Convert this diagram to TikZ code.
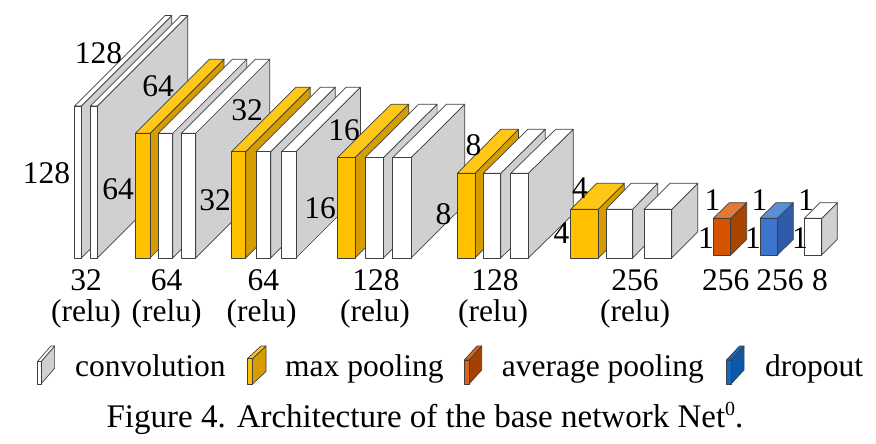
\documentclass[tikz,border=0pt]{standalone}
\usepackage{fontspec}
\setmainfont{Liberation Serif}
\definecolor{convside}{RGB}{208,208,208}
\definecolor{poolfront}{RGB}{255,192,0}
\definecolor{pooltop}{RGB}{255,199,22}
\definecolor{poolside}{RGB}{214,157,0}
\definecolor{avgfront}{RGB}{214,84,0}
\definecolor{avgtop}{RGB}{226,122,56}
\definecolor{avgside}{RGB}{168,69,0}
\definecolor{dropfront}{RGB}{61,117,204}
\definecolor{droptop}{RGB}{92,142,216}
\definecolor{dropside}{RGB}{46,92,168}
\definecolor{legavgfront}{RGB}{216,100,24}
\definecolor{legavgside}{RGB}{164,64,0}
\definecolor{legdropfront}{RGB}{22,104,190}
\definecolor{legdropside}{RGB}{12,88,168}
\definecolor{edgecol}{RGB}{64,64,64}
\newcommand{\lblfont}{\fontsize{31.5}{36}\selectfont}
\newcommand{\capfont}{\fontsize{33}{38}\selectfont}
% #1 x0, #2 x1, #3 ytop, #4 ybottom, #5 dx, #6 dy, #7 front, #8 top, #9 side
\newcommand{\layerbox}[9]{%
  \filldraw[edge, fill=#9] (#2,#3) -- ({#2+#5},{#3-#6}) -- ({#2+#5},{#4-#6}) -- (#2,#4) -- cycle;
  \filldraw[edge, fill=#8] (#1,#3) -- ({#1+#5},{#3-#6}) -- ({#2+#5},{#3-#6}) -- (#2,#3) -- cycle;
  \filldraw[edge, fill=#7] (#1,#3) rectangle (#2,#4);
}
\newcommand{\convbox}[6]{\layerbox{#1}{#2}{#3}{#4}{#5}{#6}{white}{white}{convside}}
\newcommand{\poolbox}[6]{\layerbox{#1}{#2}{#3}{#4}{#5}{#6}{poolfront}{pooltop}{poolside}}
\begin{document}
\begin{tikzpicture}[x=1pt,y=-1pt,
  edge/.style={draw=edgecol, line width=0.7pt, line join=round},
  lbl/.style={font=\lblfont, inner sep=0pt},
  legtext/.style={font=\lblfont, inner sep=0pt, anchor=base west},
  captext/.style={font=\capfont, inner sep=0pt, anchor=base}]
\fill[white] (0,0) rectangle (876,444);
\useasboundingbox (0,0) rectangle (876,444);

% block 1 (128x128, 32)
\convbox{74.7}{81.3}{106}{258}{90.5}{90.5}
\convbox{90.3}{97.3}{106}{258}{90.5}{90.5}
% block 2 (64)
\poolbox{135.3}{150}{133.3}{258}{74}{74}
\convbox{158.3}{172.7}{133.3}{258}{74}{74}
\convbox{181.3}{195.7}{133.3}{258}{74}{74}
% block 3 (32)
\poolbox{231.5}{245.7}{151.7}{258}{64.5}{64.5}
\convbox{256}{270.7}{151.7}{258}{64.5}{64.5}
\convbox{281.7}{296}{151.7}{258}{64.5}{64.5}
% block 4 (16)
\poolbox{337.3}{355}{157.7}{258}{53.8}{53.5}
\convbox{365}{383.3}{157.7}{258}{53.8}{53.5}
\convbox{392.7}{411}{157.7}{258}{53.8}{53.5}
% block 5 (8)
\poolbox{457.3}{475}{173.3}{258}{43.5}{44}
\convbox{483.3}{500.7}{173.3}{258}{44.5}{44}
\convbox{510.7}{528.3}{173.3}{258}{45}{44}
% block 6 (4)
\poolbox{570.7}{598.3}{209.3}{258}{26}{26}
\convbox{606}{632.7}{209.3}{258}{25}{26}
\convbox{644}{671.7}{209.3}{258}{26}{26}
% block 7 (1)
\layerbox{713.3}{730.7}{218.3}{255}{16}{15.6}{avgfront}{avgtop}{avgside}
\layerbox{760}{777.3}{218.3}{255}{16}{15.6}{dropfront}{droptop}{dropside}
\convbox{804.3}{821.7}{218.3}{255}{15.6}{15.6}

% size labels
\node[lbl] (s128a) at (46.5,173) {128};
\node[lbl] (s128b) at (98.5,53) {128};
\node[lbl] (s64a) at (158,86) {64};
\node[lbl] (s64b) at (118,189) {64};
\node[lbl] (s32a) at (247,110) {32};
\node[lbl] (s32b) at (215,200) {32};
\node[lbl] (s16a) at (344,130) {16};
\node[lbl] (s16b) at (320,208) {16};
\node[lbl] (s8a) at (473.5,145) {8};
\node[lbl] (s8b) at (443.5,214) {8};
\node[lbl] (s4a) at (580,188) {4};
\node[lbl] (s4b) at (561.5,233) {4};
\node[lbl] (s1a) at (712.5,200) {1};
\node[lbl] (s1b) at (706,238) {1};
\node[lbl] (s1c) at (759.5,200) {1};
\node[lbl] (s1d) at (753,238) {1};
\node[lbl] (s1e) at (806,200) {1};
\node[lbl] (s1f) at (800,238) {1};

% channel labels
\node[lbl] (c1) at (86,280) {32};
\node[lbl] (r1) at (86,314) {(relu)};
\node[lbl] (c2) at (166.7,280) {64};
\node[lbl] (r2) at (166.7,314) {(relu)};
\node[lbl] (c3) at (263.3,280) {64};
\node[lbl] (r3) at (261.7,314) {(relu)};
\node[lbl] (c4) at (376,280) {128};
\node[lbl] (r4) at (375,314) {(relu)};
\node[lbl] (c5) at (495,280) {128};
\node[lbl] (r5) at (493,314) {(relu)};
\node[lbl] (c6) at (635,280) {256};
\node[lbl] (r6) at (635,314) {(relu)};
\node[lbl] (c7) at (725.8,280) {256};
\node[lbl] (c8) at (780,280) {256};
\node[lbl] (c9) at (820,280) {8};

% legend
\layerbox{37.3}{41}{361.7}{384}{13.6}{15.7}{white}{white}{convside}
\node[legtext] (lconv) at (75,376) {convolution};
\layerbox{247.5}{252.5}{358.5}{384}{13.5}{12.5}{poolfront}{pooltop}{poolside}
\node[legtext] (lmax) at (285,376) {max pooling};
\layerbox{464.3}{469}{360}{384}{12.7}{14}{legavgfront}{legavgfront}{legavgside}
\node[legtext] (lavg) at (501.7,376) {average pooling};
\layerbox{726.5}{731}{360}{384}{13}{14}{legdropfront}{legdropfront}{legdropside}
\node[legtext] (ldrop) at (765,376) {dropout};

% caption
\node[captext] (cap) at (425,427.3) {Figure 4. Architecture of the base network Net\raisebox{12.3pt}{\fontsize{20}{22}\selectfont 0}.};
\end{tikzpicture}
\end{document}
